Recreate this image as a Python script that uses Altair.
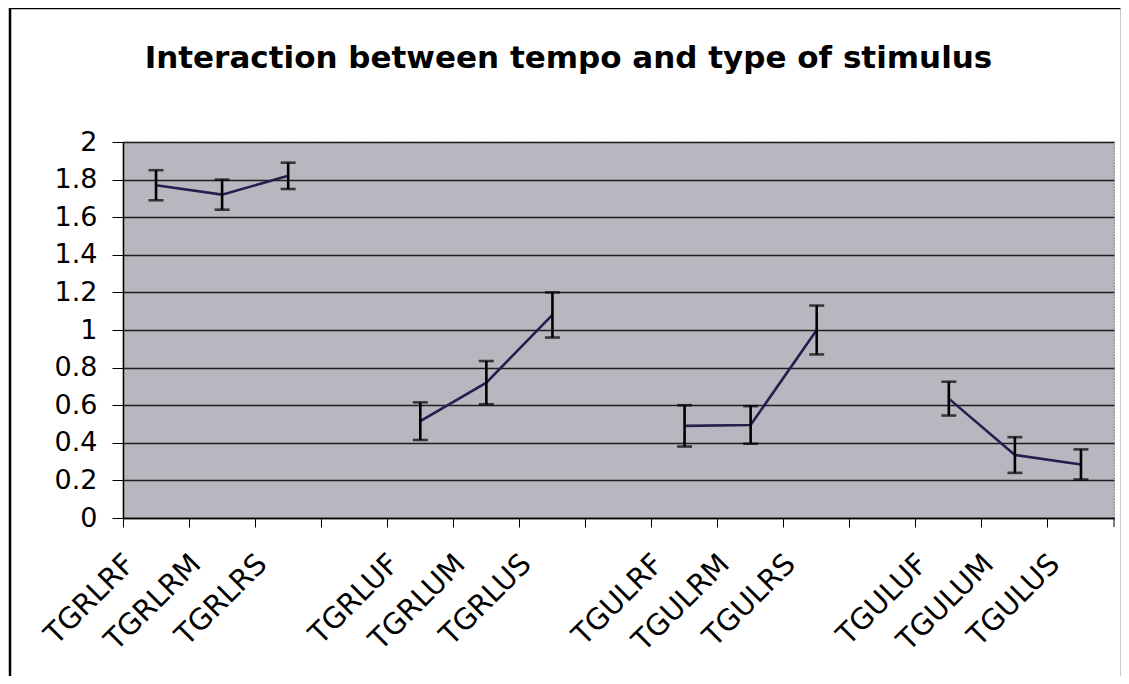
import altair as alt
import pandas as pd

# Categories along the x axis (blank slots separate the four groups)
categories = ["TGRLRF", "TGRLRM", "TGRLRS", " ",
              "TGRLUF", "TGRLUM", "TGRLUS", "  ",
              "TGULRF", "TGULRM", "TGULRS", "   ",
              "TGULUF", "TGULUM", "TGULUS"]

conditions = ["TGRLRF", "TGRLRM", "TGRLRS",
              "TGRLUF", "TGRLUM", "TGRLUS",
              "TGULRF", "TGULRM", "TGULRS",
              "TGULUF", "TGULUM", "TGULUS"]
groups = ["RLR", "RLR", "RLR", "RLU", "RLU", "RLU",
          "ULR", "ULR", "ULR", "ULU", "ULU", "ULU"]
means = [1.77, 1.72, 1.82, 0.515, 0.72, 1.08,
         0.49, 0.495, 1.00, 0.635, 0.335, 0.285]
errors = [0.08, 0.08, 0.07, 0.10, 0.115, 0.12,
          0.11, 0.10, 0.13, 0.09, 0.095, 0.08]
y_ticks = [0, 0.2, 0.4, 0.6, 0.8, 1.0, 1.2, 1.4, 1.6, 1.8, 2.0]

df = pd.DataFrame({
    "cond": conditions,
    "group": groups,
    "mean": means,
    "lo": [m - e for m, e in zip(means, errors)],
    "hi": [m + e for m, e in zip(means, errors)],
})

FONT = "DejaVu Sans"
W, H = 991, 376

x_scale = alt.Scale(domain=categories, paddingInner=0, paddingOuter=0)
x_axis = alt.Axis(title=None, labelAngle=-45, labelAlign="right", labelBaseline="top",
                  labelFontSize=29, labelFont=FONT, labelColor="black",
                  labelPadding=22, labelOffset=-36, bandPosition=0,
                  tickSize=9, tickColor="black", tickWidth=1,
                  domainColor="black", domainWidth=1.5, labelOverlap=False)
y_scale = alt.Scale(domain=[0, 2], nice=False, zero=True)
y_axis = alt.Axis(title=None, values=y_ticks, format="~g", labelFontSize=27, labelFont=FONT,
                  labelColor="black", labelPadding=15, tickSize=11, tickColor="black",
                  labelOverlap=False, domainColor="black", domainWidth=1.5,
                  grid=True, gridColor="#1e1e1e", gridWidth=1.4, gridOpacity=1)

base = alt.Chart(df)

line = base.mark_line(color="#24204e", strokeWidth=2.6).encode(
    x=alt.X("cond:N", scale=x_scale, axis=x_axis),
    y=alt.Y("mean:Q", scale=y_scale, axis=y_axis),
    detail="group:N",
)
bars = base.mark_rule(color="black", strokeWidth=2.6).encode(
    x=alt.X("cond:N", scale=x_scale, axis=x_axis),
    y=alt.Y("lo:Q", scale=y_scale, axis=y_axis), y2="hi:Q")
cap_lo = base.mark_tick(color="black", thickness=2.6, size=15).encode(
    x=alt.X("cond:N", scale=x_scale, axis=x_axis),
    y=alt.Y("lo:Q", scale=y_scale, axis=y_axis))
cap_hi = base.mark_tick(color="black", thickness=2.6, size=15).encode(
    x=alt.X("cond:N", scale=x_scale, axis=x_axis),
    y=alt.Y("hi:Q", scale=y_scale, axis=y_axis))

one = alt.Data(values=[{"k": 1}])
frame_left = alt.Chart(one).mark_rule(color="black", strokeWidth=2.5).encode(
    x=alt.value(-113), y=alt.value(-134), y2=alt.value(540))
frame_top = alt.Chart(one).mark_rule(color="black", strokeWidth=2.5).encode(
    x=alt.value(-113), x2=alt.value(998), y=alt.value(-134))
frame_right = alt.Chart(one).mark_rule(color="#bbbbbb", strokeWidth=1.5).encode(
    x=alt.value(998), y=alt.value(-134), y2=alt.value(540))
right_tick = alt.Chart(one).mark_rule(color="black", strokeWidth=1).encode(
    x=alt.value(W), y=alt.value(H), y2=alt.value(H + 9))

chart = alt.layer(line, bars, cap_lo, cap_hi, right_tick, frame_left, frame_top, frame_right).properties(
    width=W, height=H,
    background="white",
    title=alt.TitleParams("Interaction between tempo and type of stimulus",
                          font=FONT, fontSize=31, fontWeight="bold", color="black",
                          anchor="middle", frame="group", offset=-99, dx=-50, baseline="bottom"),
    padding={"left": 115, "top": 134, "right": 7, "bottom": 158},
    autosize=alt.AutoSizeParams(type="none"),
).configure_view(
    fill="#b8b7c0", stroke="#8a8a8a", strokeWidth=1.2, strokeDash=[2, 1]
)

chart.save("out.html", embed_options={"renderer": "svg", "actions": False})
